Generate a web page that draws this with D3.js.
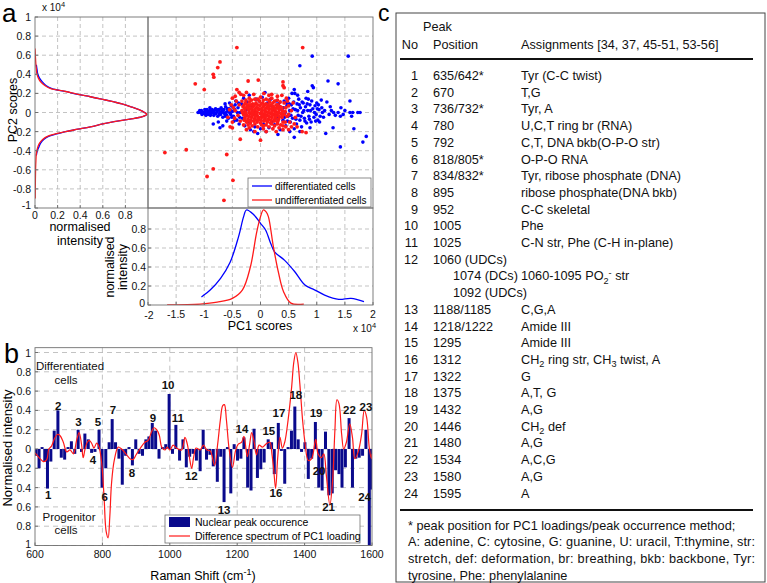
<!DOCTYPE html>
<html><head><meta charset="utf-8">
<script src="https://cdn.jsdelivr.net/npm/d3@7"></script>
<style>body{margin:0;background:#fff;} svg{display:block;}</style>
</head><body>
<script>
// ================= DATA =================
// Panel a, left: PC2 score density (PC2 value, normalised intensity)
const leftBlueY = [0.5,0.45,0.4,0.36,0.32,0.28,0.25,0.22,0.19,0.165,0.14,0.113,0.09,0.06,0.03,0,-0.02,-0.044,-0.07,-0.096,-0.12,-0.15,-0.175,-0.2,-0.225,-0.25,-0.28,-0.32,-0.36,-0.4,-0.45];
const leftBlueI = [0.012,0.018,0.025,0.04,0.065,0.1,0.15,0.27,0.38,0.49,0.59,0.69,0.77,0.85,0.92,0.97,0.99,0.95,0.84,0.7,0.6,0.49,0.38,0.27,0.19,0.12,0.08,0.05,0.035,0.02,0.012];
const leftRedY = [0.67,0.6,0.5,0.45,0.4,0.36,0.32,0.28,0.25,0.22,0.19,0.165,0.14,0.113,0.09,0.06,0.03,0,-0.02,-0.044,-0.07,-0.096,-0.12,-0.15,-0.175,-0.2,-0.225,-0.25,-0.28,-0.32,-0.36,-0.43,-0.5,-0.6,-0.75,-0.9];
const leftRedI = [0,0.003,0.008,0.012,0.018,0.03,0.05,0.09,0.14,0.27,0.38,0.49,0.59,0.69,0.77,0.85,0.92,0.97,0.99,0.95,0.84,0.7,0.6,0.49,0.38,0.27,0.18,0.11,0.07,0.04,0.025,0.012,0.008,0.005,0.003,0.002];
// Panel a, bottom: PC1 score density
const botBlueX = [-1.05,-0.89,-0.71,-0.54,-0.39,-0.3,-0.25,-0.12,0,0.09,0.18,0.25,0.43,0.61,0.79,0.96,1.14,1.39,1.61,1.84];
const botBlueI = [0.085,0.16,0.28,0.45,0.72,0.93,1.0,0.95,0.86,0.79,0.65,0.56,0.47,0.35,0.21,0.16,0.105,0.06,0.07,0.035];
const botRedX = [-1.66,-1.07,-0.77,-0.5,-0.32,-0.18,-0.07,0.0,0.05,0.1,0.14,0.23,0.32,0.41,0.54,0.77];
const botRedI = [0,0.01,0.03,0.07,0.16,0.4,0.76,0.93,1.0,0.98,0.93,0.61,0.34,0.14,0.02,0.01];
// Panel a, scatter: PC1 / PC2 scores (x 10^4)
const blueScores = [[-1.11,0.0],[-1.07,0.0],[-1.05,0.02],[-1.02,0.0],[-1.0,-0.01],[-0.98,0.01],[-0.95,0.03],[-0.93,-0.02],[-0.92,0.0],[-0.9,0.02],[-0.88,-0.01],[-0.86,0.03],[-0.85,0.0],[-0.83,-0.03],[-0.82,0.02],[-0.8,0.04],[-0.79,-0.01],[-0.77,0.01],[-0.76,-0.04],[-0.74,0.03],[-0.72,0.0],[-0.71,-0.02],[-0.7,0.05],[-0.68,0.01],[-0.67,-0.05],[-0.65,0.03],[-0.64,-0.01],[-0.62,0.06],[-0.61,0.0],[-0.6,-0.03],[-0.58,0.02],[-0.57,-0.06],[-0.56,0.04],[-0.55,0.0],[-0.53,-0.02],[-0.52,0.07],[-0.5,0.01],[-0.84,-0.12],[-0.75,-0.1],[-0.72,-0.16],[-0.67,-0.14],[-0.6,-0.09],[-0.55,0.1],[-0.63,0.09],[-0.9,0.05],[-0.97,-0.03],[-0.48,-0.04],[-0.46,0.03],[-0.44,0.12],[-0.42,-0.08],[-0.4,0.05],[-0.38,-0.12],[-0.36,0.0],[-0.34,0.09],[-0.32,-0.06],[-0.3,0.15],[-0.28,-0.14],[-0.26,0.02],[-0.24,0.11],[-0.22,-0.1],[-0.2,0.18],[-0.18,-0.18],[-0.15,0.06],[-0.12,-0.2],[-0.1,-0.15],[-0.08,0.14],[-0.05,-0.22],[-0.02,0.12],[0.0,-0.17],[0.03,0.16],[0.05,-0.12],[0.08,0.21],[0.1,-0.2],[0.12,0.1],[0.15,-0.16],[0.18,0.14],[0.2,-0.1],[0.22,0.06],[0.25,-0.13],[0.28,0.12],[0.3,-0.06],[0.32,0.09],[0.35,-0.18],[0.38,0.03],[0.31,-0.23],[0.4,-0.08],[0.42,0.12],[0.44,0.0],[0.45,-0.14],[0.47,0.07],[0.49,-0.04],[0.5,0.15],[0.52,0.02],[0.53,-0.1],[0.55,0.08],[0.56,0.2],[0.57,-0.06],[0.59,0.11],[0.6,-0.17],[0.6,-0.26],[0.61,0.2],[0.62,0.03],[0.64,-0.12],[0.65,0.09],[0.67,-0.03],[0.68,0.14],[0.7,-0.08],[0.71,0.05],[0.7,0.49],[0.73,-0.15],[0.75,0.0],[0.76,0.1],[0.78,-0.06],[0.8,0.06],[0.81,0.15],[0.82,-0.11],[0.84,0.02],[0.85,0.14],[0.86,-0.04],[0.88,0.08],[0.9,-0.1],[0.92,0.28],[0.92,0.59],[0.93,0.04],[0.94,0.26],[0.95,-0.05],[0.97,0.07],[0.99,-0.02],[1.0,0.1],[1.02,-0.08],[1.04,0.03],[1.06,-0.04],[1.08,0.13],[1.1,0.0],[1.12,-0.05],[1.16,-0.22],[1.18,0.11],[1.2,0.33],[1.22,-0.02],[1.26,0.02],[1.29,-0.16],[1.33,-0.03],[1.38,0.3],[1.38,0.0],[1.42,-0.04],[1.42,-0.36],[1.43,0.05],[1.47,-0.02],[1.5,0.02],[1.56,0.59],[1.59,0.12],[1.59,0.0],[1.62,-0.04],[1.64,0.0],[1.66,-0.17],[1.73,0.0],[1.77,0.0],[1.82,-0.31],[1.88,-0.25],[-1.08,0.02],[-1.04,-0.02],[-0.99,0.03],[-0.96,-0.01],[-0.94,0.01],[-0.89,-0.03],[-0.87,0.01],[-0.81,-0.01],[-0.78,0.03],[-0.73,-0.02],[-0.69,0.03],[-0.66,0.0],[-0.63,-0.04],[-0.59,0.04],[-0.54,0.03],[-0.51,-0.05],[-0.49,0.06],[-0.47,-0.09],[-0.45,0.08],[-0.41,0.0],[-0.39,0.1],[-0.37,-0.05],[0.41,0.05],[0.43,-0.05],[0.46,0.1],[0.48,-0.09],[0.51,0.09],[0.54,-0.03],[0.58,0.04],[0.63,-0.07],[0.66,0.02],[0.69,0.08],[0.72,-0.04],[0.74,0.11],[0.77,0.02],[0.79,-0.09],[0.83,0.09],[0.87,-0.07],[0.89,0.02],[0.91,0.12],[0.96,0.0],[0.98,-0.09],[1.01,0.04],[1.03,0.08],[1.05,-0.1],[1.09,0.05],[1.14,0.02],[1.24,0.06],[1.3,0.0],[0.6,0.24],[0.66,0.18],[0.84,0.22],[0.52,-0.2],[0.7,-0.2],[0.88,-0.16]];
const redScores = [[-0.27,0.1],[-0.2,0.11],[-0.14,0.09],[-0.08,0.1],[-0.02,0.12],[0.04,0.1],[0.1,0.09],[0.16,0.11],[0.22,0.1],[0.28,0.08],[-0.31,0.06],[-0.25,0.05],[-0.19,0.07],[-0.13,0.06],[-0.07,0.05],[-0.01,0.07],[0.05,0.06],[0.11,0.05],[0.17,0.07],[0.23,0.06],[0.29,0.05],[0.35,0.06],[-0.33,0.02],[-0.27,0.01],[-0.21,0.03],[-0.15,0.02],[-0.09,0.01],[-0.03,0.03],[0.03,0.02],[0.09,0.01],[0.15,0.03],[0.21,0.02],[0.27,0.01],[0.33,0.03],[0.39,0.02],[-0.3,-0.02],[-0.24,-0.03],[-0.18,-0.01],[-0.12,-0.02],[-0.06,-0.03],[0.0,-0.01],[0.06,-0.02],[0.12,-0.03],[0.18,-0.01],[0.24,-0.02],[0.3,-0.03],[0.36,-0.01],[0.42,-0.02],[-0.28,-0.06],[-0.22,-0.07],[-0.16,-0.05],[-0.1,-0.06],[-0.04,-0.07],[0.02,-0.05],[0.08,-0.06],[0.14,-0.07],[0.2,-0.05],[0.26,-0.06],[0.32,-0.07],[0.38,-0.05],[-0.25,-0.1],[-0.18,-0.11],[-0.12,-0.09],[-0.06,-0.1],[0.0,-0.11],[0.06,-0.09],[0.12,-0.1],[0.18,-0.11],[0.24,-0.09],[0.3,-0.1],[-0.23,0.08],[-0.11,0.08],[0.01,0.09],[0.13,0.08],[-0.17,-0.08],[-0.05,-0.08],[0.07,-0.08],[0.19,-0.08],[0.25,0.03],[-0.06,0.0],[0.04,-0.04],[0.14,0.0],[-0.2,0.0],[-0.29,0.08],[-0.17,0.08],[-0.05,0.08],[0.07,0.08],[0.19,0.08],[0.31,0.08],[-0.28,0.04],[-0.22,0.05],[-0.16,0.04],[-0.1,0.03],[-0.04,0.04],[0.02,0.04],[0.08,0.03],[0.14,0.05],[0.2,0.04],[0.26,0.04],[0.32,0.05],[0.38,0.05],[-0.32,0.0],[-0.26,-0.01],[-0.14,0.0],[-0.08,-0.01],[0.02,0.0],[0.08,-0.01],[0.2,0.0],[0.26,-0.01],[0.32,0.0],[0.38,-0.01],[0.44,0.01],[-0.27,-0.04],[-0.21,-0.04],[-0.15,-0.03],[-0.09,-0.04],[-0.03,-0.05],[0.03,-0.03],[0.09,-0.04],[0.15,-0.04],[0.21,-0.03],[0.27,-0.04],[0.33,-0.04],[0.39,-0.03],[-0.29,-0.08],[-0.23,-0.09],[-0.11,-0.08],[0.01,-0.08],[0.13,-0.08],[0.25,-0.08],[0.31,-0.09],[-0.26,0.13],[-0.16,0.13],[-0.05,0.14],[0.05,0.13],[0.15,0.13],[0.25,0.12],[0.35,0.11],[-0.22,-0.13],[-0.1,-0.12],[0.02,-0.13],[0.1,-0.13],[0.2,-0.12],[0.3,-0.12],[0.4,-0.1],[-0.38,0.08],[-0.4,-0.03],[-0.36,-0.09],[-0.33,0.12],[-0.2,0.15],[-0.1,0.14],[0.0,0.16],[0.1,0.14],[0.2,0.15],[0.3,0.13],[0.42,0.1],[0.45,0.05],[0.47,-0.04],[0.44,-0.1],[0.36,-0.13],[0.25,-0.14],[0.15,-0.15],[0.05,-0.14],[-0.05,-0.15],[-0.15,-0.14],[-0.3,-0.13],[-0.45,0.02],[-0.43,0.12],[-0.35,0.19],[-0.25,0.21],[-0.12,0.19],[0.06,0.2],[0.2,0.19],[0.38,0.18],[0.5,0.07],[0.52,-0.1],[0.4,-0.18],[0.28,-0.2],[0.1,-0.2],[-0.1,-0.2],[-0.25,-0.18],[-0.5,-0.1],[-0.52,0.08],[0.55,-0.15],[0.6,-0.12],[-0.48,0.05],[-0.46,-0.06],[0.48,0.12],[0.5,-0.02],[0.46,0.15],[-0.3,0.18],[0.15,0.18],[0.3,0.17],[-0.2,-0.16],[0.05,-0.17],[0.22,-0.17],[0.33,-0.16],[0.45,-0.15],[0.55,0.02],[0.58,0.1],[-0.55,0.03],[-0.58,-0.05],[0.62,-0.05],[0.65,-0.15],[0.5,-0.18],[-0.5,0.15],[-0.45,0.17],[-0.38,0.21],[0.4,-0.14],[-0.42,0.68],[0.75,0.68],[-0.72,0.53],[-0.76,0.47],[-0.84,0.4],[-0.83,0.37],[-1.16,0.3],[-1.0,0.24],[-0.22,0.33],[-0.04,0.34],[0.4,0.32],[0.4,0.28],[0.42,0.26],[-0.42,0.24],[-1.7,-0.42],[-1.32,-0.39],[-0.6,-0.44],[-0.84,-0.59],[-0.95,-0.67],[-0.49,-0.71],[-0.65,-0.92],[-0.36,-0.28],[0.0,-0.29],[0.74,-0.2],[0.81,-0.21],[-0.54,-0.15],[-0.5,-0.16]];
// Panel b: nuclear peak occurrence bars (Raman shift, normalised intensity; negative = progenitor)
const barShift = [603,612,621,629,637,647,657,668,678,688,698,708,718,728,738,748,758,768,778,790,799,810,820,829,839,849,859,869,879,889,899,909,919,929,938,948,958,968,978,988,998,1008,1018,1029,1039,1049,1059,1069,1079,1090,1099,1109,1119,1129,1141,1151,1161,1171,1181,1191,1201,1211,1220,1231,1241,1250,1260,1270,1280,1292,1302,1310,1322,1331,1341,1351,1361,1371,1381,1391,1401,1411,1421,1432,1442,1452,1462,1472,1482,1492,1502,1511,1521,1532,1542,1552,1562,1572,1582,1592,1599];
const barValue = [-0.07,-0.2,0.02,-0.13,-0.41,-0.13,0.19,0.4,-0.09,-0.11,0.02,0.08,-0.05,0.2,-0.03,0.16,0.1,-0.04,-0.03,0.2,-0.4,-0.2,0.07,0.31,0.07,-0.1,-0.37,-0.07,0.02,-0.17,0.1,-0.05,-0.07,0.1,0.13,0.27,0.19,-0.1,0.02,0.05,0.57,-0.05,0.25,-0.12,0.1,-0.19,-0.08,-0.05,-0.12,-0.23,0.2,-0.11,-0.06,-0.18,-0.34,-0.08,-0.55,0.02,-0.46,0.05,-0.12,-0.1,0.12,-0.4,-0.43,0.21,-0.3,-0.21,-0.14,0.1,0.07,-0.26,0.27,-0.02,-0.36,0.02,0.19,0.44,0.1,-0.03,0.07,-0.31,-0.1,0.28,-0.4,-0.43,0.18,-0.48,-0.46,-0.22,-0.26,-0.4,-0.19,0.32,-0.4,-0.1,-0.09,-0.07,0.2,-1.0,-0.42];
// Panel b: difference spectrum of PC1 loading
const diffShift = [600,615,625,635,641,649,657,666,674,684,694,704,714,724,731,738,743,748,755,761,768,775,783,790,798,805,811,817,822,827,835,847,857,872,882,891,900,911,926,936,946,953,961,969,976,986,992,1000,1010,1020,1035,1045,1052,1058,1065,1071,1078,1090,1100,1110,1120,1133,1142,1150,1157,1162,1168,1176,1186,1195,1203,1213,1220,1230,1237,1243,1250,1257,1265,1275,1285,1297,1303,1308,1314,1320,1327,1334,1341,1351,1361,1368,1374,1380,1386,1394,1401,1411,1421,1433,1440,1450,1457,1465,1475,1483,1490,1496,1502,1510,1516,1524,1534,1542,1549,1559,1569,1577,1584,1592,1598,1600];
const diffValue = [-0.04,-0.1,-0.13,-0.11,0.0,0.03,0.1,0.15,0.14,0.07,-0.03,-0.01,-0.05,0.1,0.17,0.05,-0.09,-0.01,0.07,0.09,0.06,0.01,0.06,0.02,-0.15,-0.5,-0.85,-0.92,-0.7,-0.36,-0.12,0.02,0.0,-0.06,-0.1,-0.11,-0.06,0.0,0.07,0.09,0.18,0.22,0.2,0.14,0.02,-0.01,0.02,-0.01,0.04,0.01,-0.01,0.12,0.05,-0.08,-0.2,-0.08,0.01,-0.01,0.04,-0.01,-0.02,-0.17,0.05,0.3,0.45,0.46,0.3,0.0,-0.19,-0.02,0.05,0.07,0.13,-0.08,0.05,0.17,0.08,-0.06,0.04,0.02,0.05,0.07,-0.05,-0.2,-0.41,-0.1,0.12,0.01,0.07,0.3,0.62,0.9,1.0,0.9,0.67,0.3,0.07,-0.12,-0.1,0.1,-0.05,-0.09,-0.05,-0.29,-0.58,-0.33,0.2,0.51,0.47,0.15,0.0,0.07,0.26,0.12,-0.1,-0.03,0.15,0.4,0.33,0.01,-0.1,-0.05];
// Panel b: peak annotation labels (number, shift, value)
const peakLabelNo = ["1","2","3","4","5","6","7","8","9","10","11","12","13","14","15","16","17","18","19","20","21","22","23","24"];
const peakLabelShift = [639,669,729,772,787,807,831,888,950,995,1024,1064,1161,1214,1294,1315,1324,1374,1434,1443,1471,1533,1582,1578];
const peakLabelValue = [-0.48,0.45,0.28,-0.11,0.28,-0.5,0.4,-0.25,0.32,0.66,0.32,-0.28,-0.63,0.21,0.19,-0.46,0.37,0.56,0.37,-0.23,-0.6,0.4,0.44,-0.5];
// Axis ticks
const leftXTicks = [0,0.2,0.4,0.6,0.8];
const pc2Ticks = [-1,-0.8,-0.6,-0.4,-0.2,0,0.2,0.4,0.6,0.8,1];
const pc1Ticks = [-2,-1.5,-1,-0.5,0,0.5,1,1.5,2];
const botYTicks = [0,0.2,0.4,0.6,0.8];
const ramanTicks = [600,800,1000,1200,1400,1600];
const bYTicks = [-1,-0.8,-0.6,-0.4,-0.2,0,0.2,0.4,0.6,0.8,1];
// Panel c table
const peakNo = ["1","2","3","4","5","6","7","8","9","10","11","12","13","14","15","16","17","18","19","20","21","22","23","24"];
const peakPos = ["635/642*","670","736/732*","780","792","818/805*","834/832*","895","952","1005","1025","1060 (UDCs)","1188/1185","1218/1222","1295","1312","1322","1375","1432","1446","1480","1534","1580","1595"];
const peakAssign = ["Tyr (C-C twist)","T,G","Tyr, A","U,C,T ring br (RNA)","C,T, DNA bkb(O-P-O str)","O-P-O RNA","Tyr, ribose phosphate (DNA)","ribose phosphate(DNA bkb)","C-C skeletal","Phe","C-N str, Phe (C-H in-plane)","","C,G,A","Amide III","Amide III","CH_2 ring str, CH_3 twist, A","G","A,T, G","A,G","CH_2 def","A,G","A,C,G","A,G","A"];
const row12Extra = [["1074 (DCs)","1060-1095 PO_2^- str"],["1092 (UDCs)",""]];
const footnote = ["* peak position for PC1 loadings/peak occurrence method;","A: adenine, C: cytosine, G: guanine, U: uracil, T:thymine, str:","stretch, def: deformation, br: breathing, bkb: backbone, Tyr:","tyrosine, Phe: phenylalanine"];

// ================= DRAWING =================
const F = "'Liberation Sans', Arial, Helvetica, sans-serif";
const svg = d3.select("body").append("svg").attr("width",767).attr("height",583)
  .style("font-family",F);
const GRID = "#b4b4b4", FRAME = "#707070", BLUE = "#0000ff", RED = "#ff1a1a";
const fmt = d => (Math.round(d*10)/10).toString();

function hline(g,x1,x2,y,dash){g.append("line").attr("x1",x1).attr("x2",x2).attr("y1",y).attr("y2",y).attr("stroke",GRID).attr("stroke-width",0.8).attr("stroke-dasharray",dash||"4,3");}
function vline(g,x,y1,y2,dash){g.append("line").attr("x1",x).attr("x2",x).attr("y1",y1).attr("y2",y2).attr("stroke",GRID).attr("stroke-width",0.8).attr("stroke-dasharray",dash||"4,3");}
function frame(g,x1,y1,x2,y2){g.append("rect").attr("x",x1).attr("y",y1).attr("width",x2-x1).attr("height",y2-y1).attr("fill","none").attr("stroke",FRAME).attr("stroke-width",0.9);}
function rich(sel,str,size){
  let cur=0, buf="";
  const flush=()=>{ if(buf){ sel.append("tspan").attr("dy",-cur).text(buf); cur=0; buf=""; } };
  for(let i=0;i<str.length;i++){
    const c=str[i];
    if((c==="_"||c==="^") && i+1<str.length){ flush(); const t=c==="_"?3.5:-4.5;
      sel.append("tspan").attr("dy",t-cur).attr("font-size",size*0.72).text(str[i+1]); cur=t; i++; }
    else buf+=c;
  }
  flush();
}

// ---------- Panel a ----------
const xL = d3.scaleLinear([0,1],[35,148]);
const yA = d3.scaleLinear([-1,1],[208,17]);
const xS = d3.scaleLinear([-2,2],[148,373]);
const yD = d3.scaleLinear([0,1],[305,210]);
const ga = svg.append("g");

leftXTicks.filter(v=>v>0).forEach(v=>vline(ga,xL(v),yA(1),yA(-1)));
pc2Ticks.filter(v=>v>-1&&v<1).forEach(v=>{hline(ga,xL(0),xL(1),yA(v)); hline(ga,xS(-2),xS(2),yA(v));});
pc1Ticks.filter(v=>v>-2&&v<2).forEach(v=>{vline(ga,xS(v),yA(1),yA(-1)); vline(ga,xS(v),yD(1),yD(0));});
botYTicks.filter(v=>v>0).forEach(v=>hline(ga,xS(-2),xS(2),yD(v)));

const defs = svg.append("defs");
defs.append("clipPath").attr("id","clipL").append("rect").attr("x",xL(0)).attr("y",yA(1)).attr("width",xL(1)-xL(0)).attr("height",yA(-1)-yA(1));
defs.append("clipPath").attr("id","clipD").append("rect").attr("x",xS(-2)).attr("y",yD(1)-2).attr("width",xS(2)-xS(-2)).attr("height",yD(0)-yD(1)+2);
defs.append("clipPath").attr("id","clipB").append("rect").attr("x",35).attr("y",347).attr("width",337).attr("height",199);

const lineL = d3.line().x(d=>xL(d[1])).y(d=>yA(d[0])).curve(d3.curveCatmullRom);
ga.append("path").attr("d",lineL(leftBlueY.map((v,i)=>[v,leftBlueI[i]]))).attr("fill","none").attr("stroke",BLUE).attr("stroke-width",1.3).attr("clip-path","url(#clipL)");
ga.append("path").attr("d",lineL(leftRedY.map((v,i)=>[v,leftRedI[i]]))).attr("fill","none").attr("stroke",RED).attr("stroke-width",1.3).attr("clip-path","url(#clipL)");

ga.append("g").selectAll("circle").data(blueScores).join("circle")
  .attr("cx",d=>xS(d[0])).attr("cy",d=>yA(d[1])).attr("r",1.8).attr("fill",BLUE);
ga.append("g").selectAll("circle").data(redScores).join("circle")
  .attr("cx",d=>xS(d[0])).attr("cy",d=>yA(d[1])).attr("r",1.9).attr("fill",RED);

const lineD = d3.line().x(d=>xS(d[0])).y(d=>yD(d[1])).curve(d3.curveCatmullRom);
ga.append("path").attr("d",lineD(botBlueX.map((v,i)=>[v,botBlueI[i]]))).attr("fill","none").attr("stroke",BLUE).attr("stroke-width",1.3).attr("clip-path","url(#clipD)");
ga.append("path").attr("d",lineD(botRedX.map((v,i)=>[v,botRedI[i]]))).attr("fill","none").attr("stroke",RED).attr("stroke-width",1.3).attr("clip-path","url(#clipD)");

frame(ga,xL(0),yA(1),xL(1),yA(-1));
frame(ga,xS(-2),yA(1),xS(2),yA(-1));
frame(ga,xS(-2),yD(1)-2,xS(2),yD(0));

const tk = ga.append("g").attr("font-size",10.5).attr("fill","#111");
pc2Ticks.forEach(v=>{
  tk.append("text").attr("x",31).attr("y",yA(v)+(v===-1?1:4)).attr("text-anchor","end").text(fmt(v));
  ga.append("line").attr("x1",xL(0)).attr("x2",xL(0)+3).attr("y1",yA(v)).attr("y2",yA(v)).attr("stroke",FRAME);
});
leftXTicks.forEach(v=>{
  tk.append("text").attr("x",xL(v)).attr("y",219).attr("text-anchor","middle").text(fmt(v));
  ga.append("line").attr("x1",xL(v)).attr("x2",xL(v)).attr("y1",yA(-1)).attr("y2",yA(-1)-3).attr("stroke",FRAME);
});
botYTicks.forEach(v=>{
  tk.append("text").attr("x",v===0?145:146).attr("y",yD(v)+(v===0?2:4)).attr("text-anchor","end").text(fmt(v));
  ga.append("line").attr("x1",xS(-2)).attr("x2",xS(-2)+3).attr("y1",yD(v)).attr("y2",yD(v)).attr("stroke",FRAME);
});
pc1Ticks.forEach(v=>{
  tk.append("text").attr("x",xS(v)+(v===-2?1:0)).attr("y",v===-2?318.5:318).attr("text-anchor","middle").text(fmt(v));
  ga.append("line").attr("x1",xS(v)).attr("x2",xS(v)).attr("y1",yD(0)).attr("y2",yD(0)-3).attr("stroke",FRAME);
});
const e1 = tk.append("text").attr("x",42).attr("y",11).attr("font-size",10);
e1.append("tspan").text("x 10"); e1.append("tspan").attr("dy",-4).attr("font-size",7.5).text("4");
const e2 = tk.append("text").attr("x",353).attr("y",332).attr("font-size",10);
e2.append("tspan").text("x 10"); e2.append("tspan").attr("dy",-4).attr("font-size",7.5).text("4");

ga.append("text").attr("transform","translate(17,110) rotate(-90)").attr("text-anchor","middle").attr("font-size",12.5).text("PC2 scores");
ga.append("text").attr("x",260).attr("y",330).attr("text-anchor","middle").attr("font-size",12.5).text("PC1 scores");
ga.append("text").attr("x",80).attr("y",231).attr("text-anchor","middle").attr("font-size",12.5).text("normalised");
ga.append("text").attr("x",80).attr("y",245).attr("text-anchor","middle").attr("font-size",12.5).text("intensity");
ga.append("text").attr("transform","translate(114,267) rotate(-90)").attr("text-anchor","middle").attr("font-size",12.5).text("normalised");
ga.append("text").attr("transform","translate(127,267) rotate(-90)").attr("text-anchor","middle").attr("font-size",12.5).text("intensity");

const lga = ga.append("g");
lga.append("rect").attr("x",248).attr("y",178).attr("width",123).attr("height",29).attr("fill","#fff").attr("stroke",FRAME).attr("stroke-width",0.8);
lga.append("line").attr("x1",252).attr("x2",272).attr("y1",186).attr("y2",186).attr("stroke",BLUE).attr("stroke-width",1.3);
lga.append("line").attr("x1",252).attr("x2",272).attr("y1",200).attr("y2",200).attr("stroke",RED).attr("stroke-width",1.3);
lga.append("text").attr("x",275).attr("y",189.5).attr("font-size",10).text("differentiated cells");
lga.append("text").attr("x",275).attr("y",203.5).attr("font-size",10).text("undifferentiated cells");

svg.append("text").attr("x",2).attr("y",22).attr("font-size",26).text("a");

// ---------- Panel b ----------
const xB = d3.scaleLinear([600,1600],[35,372]);
const yB = d3.scaleLinear([-1,1],[545.5,352.5]);
const gb = svg.append("g");
bYTicks.forEach(v=>hline(gb,35,372,yB(v),"5,4"));
ramanTicks.filter(v=>v>600&&v<1600).forEach(v=>vline(gb,xB(v),yB(1.05),yB(-1),"5,4"));

gb.append("g").attr("clip-path","url(#clipB)").selectAll("rect").data(barShift.map((s,i)=>[s,barValue[i]])).join("rect")
  .attr("x",d=>xB(d[0])-1.5).attr("width",3)
  .attr("y",d=>yB(Math.max(0,d[1]))).attr("height",d=>Math.abs(yB(d[1])-yB(0)))
  .attr("fill","#0a0a8c");
const lineB = d3.line().x(d=>xB(d[0])).y(d=>yB(d[1])).curve(d3.curveCatmullRom);
gb.append("path").attr("d",lineB(diffShift.map((s,i)=>[s,diffValue[i]]))).attr("fill","none").attr("stroke",RED).attr("stroke-width",1.2).attr("clip-path","url(#clipB)");
frame(gb,35,yB(1.05),372,yB(-1));

const tkb = gb.append("g").attr("font-size",10.5).attr("fill","#111");
bYTicks.forEach(v=>{
  tkb.append("text").attr("x",31).attr("y",yB(v)+(v===-1?2:4)).attr("text-anchor","end").text(fmt(Math.abs(v)));
  gb.append("line").attr("x1",35).attr("x2",38).attr("y1",yB(v)).attr("y2",yB(v)).attr("stroke",FRAME);
});
ramanTicks.forEach(v=>{
  tkb.append("text").attr("x",xB(v)).attr("y",558).attr("text-anchor","middle").text(v);
  gb.append("line").attr("x1",xB(v)).attr("x2",xB(v)).attr("y1",yB(-1)).attr("y2",yB(-1)-3).attr("stroke",FRAME);
});
gb.append("g").selectAll("text").data(peakLabelNo).join("text")
  .attr("x",(d,i)=>xB(peakLabelShift[i])).attr("y",(d,i)=>yB(peakLabelValue[i])+4)
  .attr("text-anchor","middle").attr("font-size",11.5).attr("font-weight","bold").attr("fill","#111").text(d=>d);
const an = gb.append("g").attr("font-size",11.5).attr("text-anchor","middle").attr("fill","#111");
an.append("text").attr("x",70).attr("y",370).text("Differentiated");
an.append("text").attr("x",66).attr("y",384).text("cells");
an.append("text").attr("x",69).attr("y",521).text("Progenitor");
an.append("text").attr("x",66).attr("y",534).text("cells");
gb.append("rect").attr("x",165).attr("y",515).attr("width",195).attr("height",28).attr("fill","#fff").attr("stroke",FRAME).attr("stroke-width",0.8);
gb.append("rect").attr("x",169).attr("y",517).attr("width",21).attr("height",10).attr("fill","#0a0a8c");
gb.append("line").attr("x1",169).attr("x2",190).attr("y1",536).attr("y2",536).attr("stroke",RED).attr("stroke-width",1.2);
gb.append("text").attr("x",195).attr("y",525.5).attr("font-size",10.5).text("Nuclear peak occurence");
gb.append("text").attr("x",195).attr("y",539.5).attr("font-size",10.5).text("Difference spectrum of PC1 loading");
gb.append("text").attr("transform","translate(12,448) rotate(-90)").attr("text-anchor","middle").attr("font-size",13).text("Normalised intensity");
const rt = gb.append("text").attr("x",203).attr("y",580).attr("text-anchor","middle").attr("font-size",12.5);
rt.append("tspan").text("Raman Shift (cm"); rt.append("tspan").attr("dy",-5).attr("font-size",9).text("-1"); rt.append("tspan").attr("dy",5).text(")");
svg.append("text").attr("x",4).attr("y",363).attr("font-size",27).text("b");

// ---------- Panel c ----------
const gc = svg.append("g").attr("font-size",12.7).attr("fill","#111");
gc.append("rect").attr("x",396).attr("y",13).attr("width",369).attr("height",569).attr("fill","none").attr("stroke","#444").attr("stroke-width",1);
svg.append("text").attr("x",378).attr("y",21).attr("font-size",23).text("c");
gc.append("text").attr("x",423).attr("y",31).text("Peak");
gc.append("text").attr("x",418).attr("y",49).attr("text-anchor","end").text("No");
gc.append("text").attr("x",433).attr("y",49).text("Position");
gc.append("text").attr("x",521).attr("y",49).text("Assignments [34, 37, 45-51, 53-56]");
gc.append("line").attr("x1",400).attr("x2",753).attr("y1",59).attr("y2",59).attr("stroke","#111").attr("stroke-width",1.8);
const rowY = i => 75.5 + 16.7*i + 4.5;
peakNo.forEach((n,k)=>{
  const i = k<12 ? k : k+2;
  gc.append("text").attr("x",418).attr("y",rowY(i)).attr("text-anchor","end").text(n);
  gc.append("text").attr("x",433).attr("y",rowY(i)).text(peakPos[k]);
  if(peakAssign[k]) rich(gc.append("text").attr("x",521).attr("y",rowY(i)),peakAssign[k],12.7);
});
row12Extra.forEach((r,j)=>{
  gc.append("text").attr("x",453).attr("y",rowY(12+j)).text(r[0]);
  if(r[1]) rich(gc.append("text").attr("x",521).attr("y",rowY(12+j)),r[1],12.7);
});
gc.append("line").attr("x1",400).attr("x2",753).attr("y1",510).attr("y2",510).attr("stroke","#111").attr("stroke-width",1.8);
footnote.forEach((t,j)=>{
  const tx = gc.append("text").attr("x",408).attr("y",525+16.7*j+4.5).text(t);
  if(j===1||j===2) tx.attr("textLength",347).attr("lengthAdjust","spacing");
});
</script>
</body></html>
